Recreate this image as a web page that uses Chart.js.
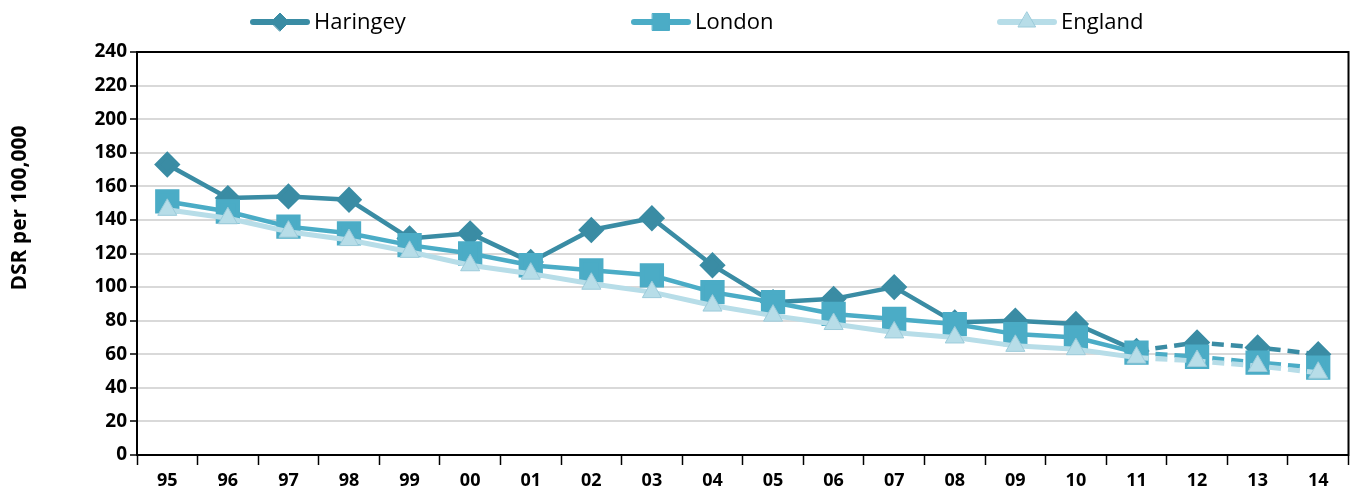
<!DOCTYPE html>
<html>
<head>
<meta charset="utf-8">
<script src="https://cdn.jsdelivr.net/npm/chart.js@4.4.1/dist/chart.umd.min.js"></script>
<style>
html,body{margin:0;padding:0;background:#fff;}
#wrap{width:1367px;height:494px;}
</style>
</head>
<body>
<div id="wrap"><canvas id="c" width="1367" height="494"></canvas></div>
<script>
const categories = ['95','96','97','98','99','00','01','02','03','04','05','06','07','08','09','10','11','12','13','14'];
const haringey = [173,153,154,152,129,132,115,134,141,113,91,93,100,79,80,78,62,67,64,60];
const london   = [151,145,136,132,125,120,113,110,107,97,91,84,81,78,72,70,61,58.5,55,52];
const england  = [146,141,133,128,121,113,108,102,97,89,83,78,73,70,65,63,58,56,53,49];
const yTicks = [0,20,40,60,80,100,120,140,160,180,200,220,240];
const seriesNames = ['Haringey','London','England'];
const yTitle = 'DSR per 100,000';

const C_HAR = '#3a8ca4';
const C_LON = '#4bacc6';
const C_ENG = '#b7dde8';
const C_ENG_B = '#9ccbda';
const FONT = '"Open Sans", Lato, sans-serif';

// legend layout (icon centre x positions)
const LEGEND_X = [280, 661, 1027];
const LEGEND_Y = 22;

const dash = ctx => ctx.p0DataIndex >= 16 ? [12, 7] : undefined;

const boxPlugin = {
  id: 'box',
  afterDraw(chart) {
    const a = chart.chartArea, g = chart.ctx;
    g.save();
    g.strokeStyle = '#000'; g.lineWidth = 2;
    g.strokeRect(a.left, a.top, a.right - a.left, a.bottom - a.top);
    // y axis title
    g.translate(20, 208);
    g.rotate(-Math.PI / 2);
    g.fillStyle = '#000';
    g.font = 'bold 21px ' + FONT;
    g.textAlign = 'center'; g.textBaseline = 'middle';
    g.fillText(yTitle, 0, 0);
    g.restore();
  }
};

const legendPlugin = {
  id: 'lineLegend',
  afterDraw(chart) {
    const g = chart.ctx;
    const legendMarker = [
      {style: 'rectRot', r: 9},
      {style: 'rect', r: 12},
      {style: 'triangle', r: 10}
    ];
    chart.data.datasets.forEach((ds, i) => {
      const cx = LEGEND_X[i], cy = LEGEND_Y;
      g.save();
      g.strokeStyle = ds.borderColor; g.lineWidth = 6; g.lineCap = 'round';
      g.beginPath(); g.moveTo(cx - 27, cy); g.lineTo(cx + 27, cy); g.stroke();
      g.fillStyle = ds.pointBackgroundColor; g.strokeStyle = ds.pointBorderColor; g.lineWidth = 1;
      Chart.helpers.drawPoint(g, {pointStyle: legendMarker[i].style, radius: legendMarker[i].r, rotation: 0, borderWidth: 1}, cx, cy);
      g.fillStyle = '#000';
      g.font = '22px ' + FONT;
      g.textBaseline = 'middle'; g.textAlign = 'left';
      g.fillText(ds.label, cx + 34, cy + 1);
      g.restore();
    });
  }
};

Chart.defaults.font.family = FONT;
Chart.defaults.color = '#000';

const chart = new Chart(document.getElementById('c'), {
  type: 'line',
  data: {
    labels: categories,
    datasets: [
      {label: seriesNames[0], data: haringey, borderColor: C_HAR, backgroundColor: C_HAR, borderWidth: 4.5,
       pointStyle: 'rectRot', pointRadius: 10, pointHoverRadius: 10, pointBorderColor: C_HAR, pointBackgroundColor: C_HAR,
       order: 2, segment: {borderDash: dash}},
      {label: seriesNames[1], data: london, borderColor: C_LON, backgroundColor: C_LON, borderWidth: 4.5,
       pointStyle: 'rect', pointRadius: 14, pointHoverRadius: 14, pointBorderColor: C_LON, pointBackgroundColor: C_LON,
       order: 1, segment: {borderDash: dash}},
      {label: seriesNames[2], data: england, borderColor: C_ENG, backgroundColor: C_ENG, borderWidth: 5,
       pointStyle: 'triangle', pointRadius: 11, pointHoverRadius: 11, pointBorderColor: C_ENG_B, pointBorderWidth: 1, pointBackgroundColor: C_ENG,
       order: 0, segment: {borderDash: dash}}
    ]
  },
  options: {
    responsive: false,
    animation: false,
    events: [],
    layout: {padding: {left: 8, right: 8, top: 52, bottom: 3}},
    plugins: {
      tooltip: {enabled: false},
      legend: {display: false}
    },
    scales: {
      x: {
        type: 'category',
        offset: true,
        afterFit(axis) { axis.height = 36; },
        grid: {offset: true, drawOnChartArea: false, drawTicks: true, tickLength: 10, tickColor: '#000', tickWidth: 1.5},
        border: {color: '#000', width: 2},
        ticks: {font: {size: 18, weight: 'bold', family: FONT}, color: '#000', padding: 5, maxRotation: 0, autoSkip: false}
      },
      y: {
        min: 0, max: 240,
        afterBuildTicks(axis) { axis.ticks = yTicks.map(v => ({value: v})); },
        afterFit(axis) { axis.width = 129; },
        grid: {color: '#d9d9d9', lineWidth: 2, drawTicks: true, tickLength: 7, tickColor: '#000', tickWidth: 1.5},
        border: {color: '#000', width: 2},
        ticks: {font: {size: 19, weight: 'bold', family: FONT}, color: '#000', padding: 3, autoSkip: false}
      }
    }
  },
  plugins: [boxPlugin, legendPlugin]
});
</script>
</body>
</html>
